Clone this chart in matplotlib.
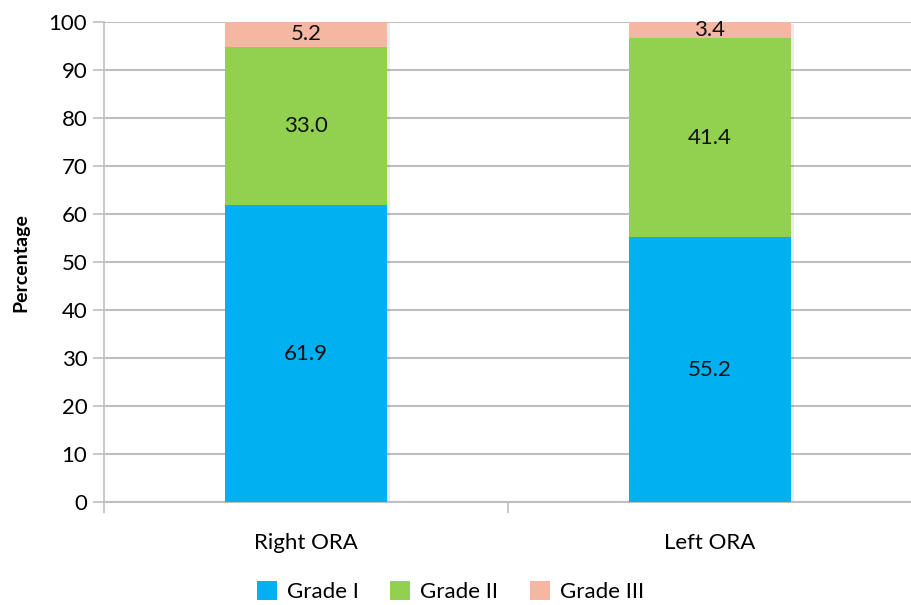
import numpy as np
import matplotlib.pyplot as plt
from matplotlib.ticker import FixedLocator

plt.rcParams['font.family'] = ['Lato', 'DejaVu Sans']

categories = ['Right ORA', 'Left ORA']
grade_names = ['Grade I', 'Grade II', 'Grade III']
grade_1 = [61.9, 55.2]
grade_2 = [33.0, 41.4]
grade_3 = [5.2, 3.4]
colors = ['#00B0F0', '#92D050', '#F5B7A1']

fig = plt.figure(figsize=(9.12, 6.05), dpi=100)
ax = fig.add_axes([0.114, 0.170, 0.886, 0.7936])

x = np.arange(len(categories))
width = 0.40
bottom = np.zeros(len(categories))
grid_color = '#BFBFBF'

for name, vals, color in zip(grade_names, [grade_1, grade_2, grade_3], colors):
    vals = np.array(vals)
    # faint drop shadow behind each segment
    ax.bar(x + 0.008, vals, width, bottom=bottom - 0.4, color='#000000',
           alpha=0.08, zorder=2, linewidth=0)
    bars = ax.bar(x, vals, width, bottom=bottom, color=color, label=name,
                  zorder=3, linewidth=0)
    ax.bar_label(bars, labels=[f'{v:.1f}' for v in vals], label_type='center',
                 fontsize=16, color='#111111', zorder=4)
    bottom += vals

ax.set_xlim(-0.5, 1.5)
ax.set_ylim(0, 100)
ax.set_yticks(range(0, 101, 10))
ax.set_xticks(x)
ax.set_xticklabels(categories)
ax.xaxis.set_minor_locator(FixedLocator([-0.5, 0.5, 1.5]))
ax.tick_params(axis='x', which='major', length=0, pad=22, labelsize=16)
ax.tick_params(axis='x', which='minor', length=8, color=grid_color, width=1.2)
ax.tick_params(axis='y', length=8, color=grid_color, width=1.2, labelsize=16,
               pad=4)

ax.yaxis.grid(True, color=grid_color, linewidth=1.5, zorder=0)
ax.set_axisbelow(True)
for side in ['top', 'right']:
    ax.spines[side].set_visible(False)
ax.spines['left'].set_color(grid_color)
ax.spines['left'].set_linewidth(1.2)
ax.spines['bottom'].set_color(grid_color)
ax.spines['bottom'].set_linewidth(1.5)

ax.set_ylabel('Percentage', fontsize=14, fontweight='bold', labelpad=14)

handles, labels = ax.get_legend_handles_labels()
fig.legend(handles, labels, loc='center', bbox_to_anchor=(0.494, 0.022),
           ncol=3, frameon=False, fontsize=16, handlelength=0.9,
           handleheight=0.9, handletextpad=0.45, columnspacing=1.4)

fig.savefig('out.png', dpi=100)
